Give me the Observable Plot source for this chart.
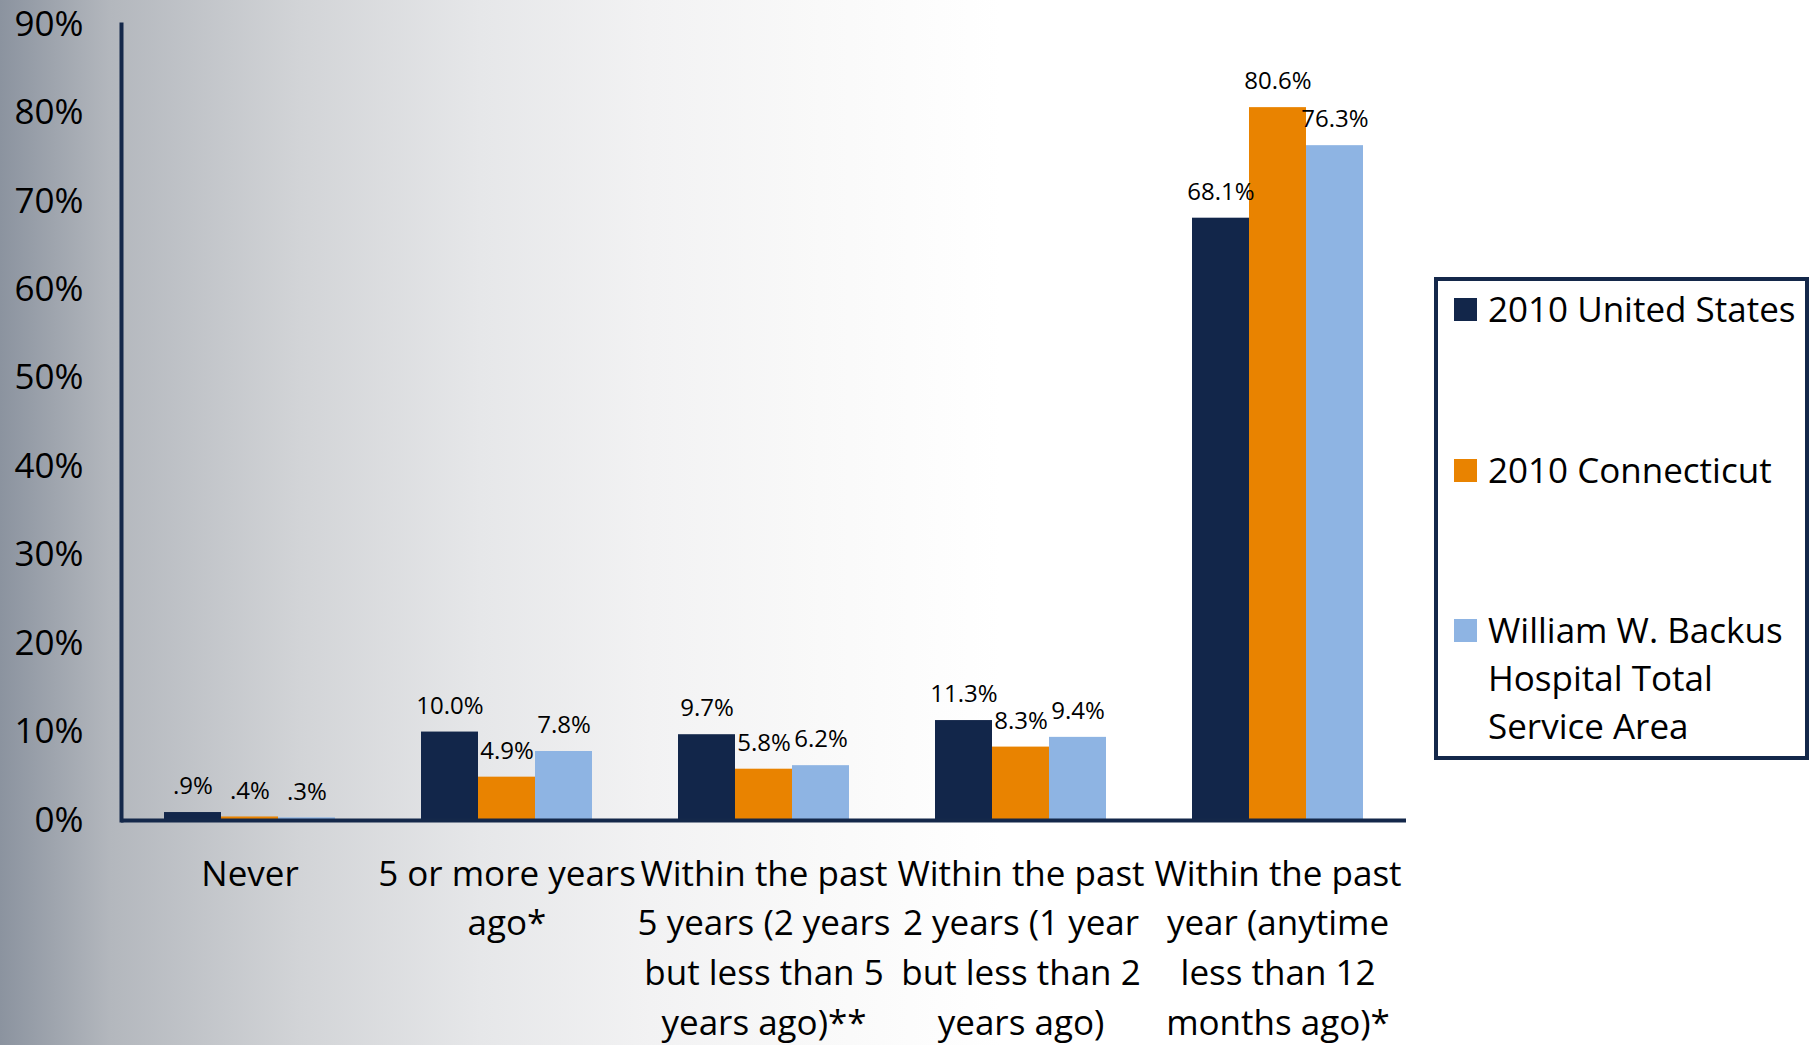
<!DOCTYPE html>
<html>
<head>
<meta charset="utf-8">
<script src="https://cdn.jsdelivr.net/npm/d3@7"></script>
<script src="https://cdn.jsdelivr.net/npm/@observablehq/plot@0.6"></script>
<style>
  html, body { margin: 0; padding: 0; }
  body {
    width: 1820px; height: 1045px; overflow: hidden; position: relative;
    font-family: "Open Sans", "Noto Sans", sans-serif;
    background: linear-gradient(to right, #8b939f 0px, #b3b7bd 110px, #d2d4d7 300px, #e6e7e9 480px, #f2f2f3 650px, #f9f9f9 820px, #ffffff 1000px);
  }
  #chart { position: absolute; left: 0; top: 0; }
  #legend {
    position: absolute; left: 1434px; top: 277px; width: 375px; height: 483px;
    box-sizing: border-box; border: 4px solid #14284a; background: #ffffff;
  }
  .item { position: absolute; left: 0; width: 100%; }
  .sw { position: absolute; left: 16px; top: 13px; width: 23px; height: 23px; }
  .lab { position: absolute; left: 50px; width: 318px; font-size: 35px; line-height: 48px; color: #000; }
</style>
</head>
<body>
<div id="chart"></div>
<div id="legend"></div>
<script>
// ---- data ----
const categories = [
  "Never",
  "5 or more years\nago*",
  "Within the past\n5 years (2 years\nbut less than 5\nyears ago)**",
  "Within the past\n2 years (1 year\nbut less than 2\nyears ago)",
  "Within the past\nyear (anytime\nless than 12\nmonths ago)*"
];
const series = ["2010 United States", "2010 Connecticut", "William W. Backus Hospital Total Service Area"];
const usValues = [0.9, 10.0, 9.7, 11.3, 68.1];
const ctValues = [0.4, 4.9, 5.8, 8.3, 80.6];
const backusValues = [0.3, 7.8, 6.2, 9.4, 76.3];
const yTicks = [0, 10, 20, 30, 40, 50, 60, 70, 80, 90];
const colors = ["#12264a", "#e98300", "#8eb4e3"];
const navy = "#14284a";

const seriesValues = [usValues, ctValues, backusValues];
const rows = [];
categories.forEach((c, i) => {
  series.forEach((s, j) => rows.push({category: c, series: s, value: seriesValues[j][i]}));
});
const fmt = v => d3.format(".1f")(v).replace(/^0\./, ".") + "%";

const chart = Plot.plot({
  width: 1820,
  height: 1045,
  marginLeft: 120,
  marginRight: 413,
  marginTop: 24,
  marginBottom: 225,
  style: {background: "transparent", fontFamily: "'Open Sans', 'Noto Sans', sans-serif", color: "#000", overflow: "visible"},
  fx: {domain: categories, padding: 0, axis: null, label: null},
  x: {domain: series, paddingInner: 0, paddingOuter: 0.75, axis: null},
  y: {domain: [0, 90], axis: null, label: null},
  color: {domain: series, range: colors},
  marks: [
    Plot.barY(rows, {fx: "category", x: "series", y: "value", fill: "series"}),
    Plot.text(rows, {fx: "category", x: "series", y: "value", text: d => fmt(d.value), dy: -26, lineAnchor: "middle", fontSize: 24, fill: "#000"}),
    Plot.ruleY([0], {stroke: navy, strokeWidth: 4}),
    Plot.frame({anchor: "left", facetAnchor: "left", stroke: navy, strokeWidth: 4}),
    Plot.axisY(yTicks, {anchor: "left", tickSize: 0, tickPadding: 38, tickFormat: d => d + "%", fontSize: 35, fill: "#000", label: null}),
    Plot.axisFx({anchor: "bottom", tickSize: 0, tickPadding: 30, fontSize: 35, lineHeight: 1.42, fill: "#000", label: null})
  ]
});
document.getElementById("chart").appendChild(chart);

// ---- legend ----
const legend = document.getElementById("legend");
const itemTops = [4, 165, 325];
series.forEach((s, j) => {
  const item = document.createElement("div");
  item.className = "item";
  item.style.top = itemTops[j] + "px";
  const sw = document.createElement("div");
  sw.className = "sw";
  sw.style.background = colors[j];
  const lab = document.createElement("div");
  lab.className = "lab";
  lab.textContent = s;
  item.appendChild(sw);
  item.appendChild(lab);
  legend.appendChild(item);
});
</script>
</body>
</html>
